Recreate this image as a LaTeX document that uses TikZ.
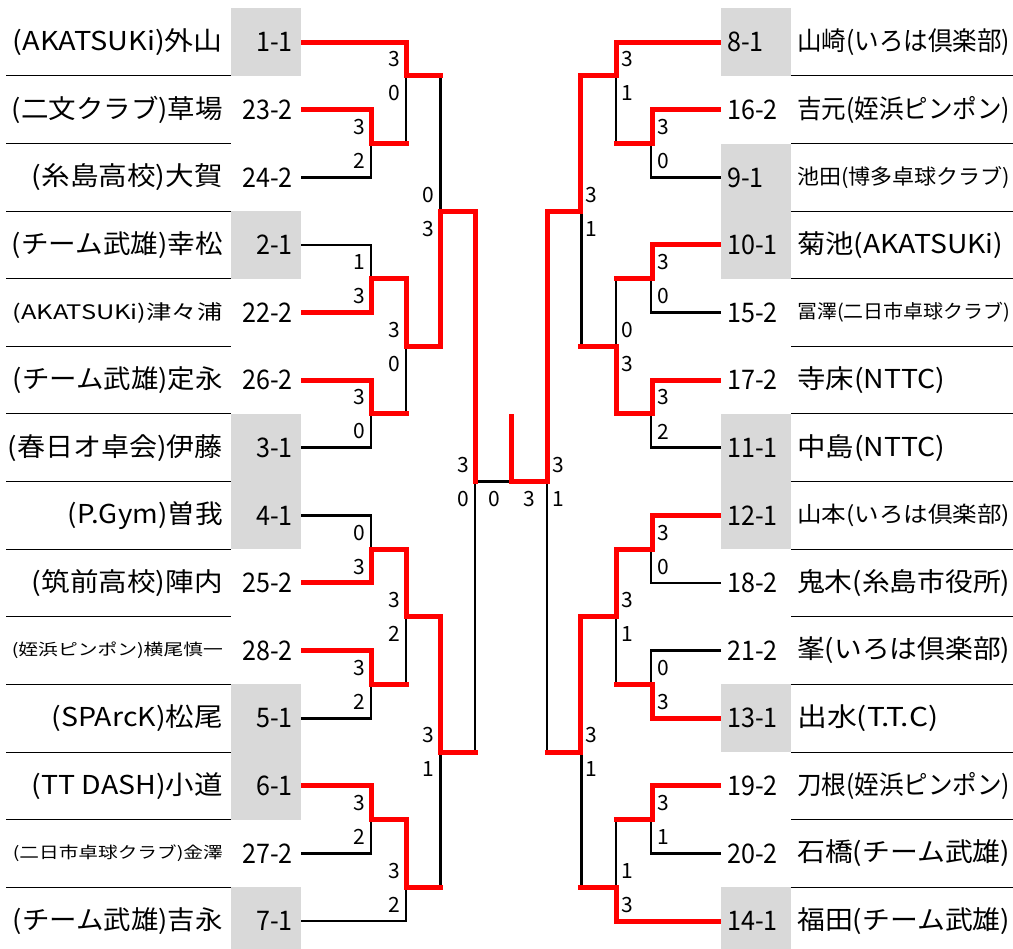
\documentclass[tikz,border=0pt]{standalone}
\usepackage{fontspec}
\setmainfont{Noto Sans CJK JP}
\usepackage{graphicx}
\definecolor{wred}{HTML}{FF0000}
\definecolor{cellgray}{HTML}{D9D9D9}
\newcommand{\nmtext}[3]{\resizebox{#1pt}{\height}{\fontsize{#2}{#2}\selectfont #3}}
\newcommand{\seedtext}[1]{\scalebox{0.93}[1]{\fontsize{27}{27}\selectfont #1}}
\tikzset{
  wline/.style={draw=wred, line width=5pt, line join=miter, line cap=rect},
  bline/.style={draw=black, line width=2.6pt, line join=miter},
  sepline/.style={draw=black, line width=1pt},
  cellbox/.style={fill=cellgray, draw=none},
  lname/.style={anchor=east, inner sep=0pt},
  rname/.style={anchor=west, inner sep=0pt},
  lseed/.style={anchor=east, inner sep=0pt},
  rseed/.style={anchor=west, inner sep=0pt},
  scorefont/.style={inner sep=0pt, font=\fontsize{21}{21}\selectfont},
  lscore/.style={scorefont, anchor=east},
  rscore/.style={scorefont, anchor=west},
  cscore/.style={scorefont, anchor=center},
}
% one half of the bracket frame (left side coordinates)
\newcommand{\halfframe}{%
  \foreach \r in {1,3,5,7,9,11} {
    \draw[bline] (301,{c(\r)}) -- (371,{c(\r)}) -- (371,{c(\r+1)}) -- (301,{c(\r+1)});
  }
  \draw[bline] (301,{c(0)}) -- (406,{c(0)}) -- (406,{b(2)}) -- (371,{b(2)});
  \draw[bline] (301,{c(13)}) -- (406,{c(13)}) -- (406,{b(12)}) -- (371,{b(12)});
  \draw[bline] (371,{b(4)}) -- (406,{b(4)}) -- (406,{b(6)}) -- (371,{b(6)});
  \draw[bline] (371,{b(8)}) -- (406,{b(8)}) -- (406,{b(10)}) -- (371,{b(10)});
  \draw[bline] (406,{b(1)}) -- (440.5,{b(1)}) -- (440.5,{b(5)}) -- (406,{b(5)});
  \draw[bline] (406,{b(9)}) -- (440.5,{b(9)}) -- (440.5,{b(13)}) -- (406,{b(13)});
  \draw[bline] (440.5,{b(3)}) -- (475,{b(3)}) -- (475,{b(11)}) -- (440.5,{b(11)});
  \draw[bline] (475,{b(7)}) -- (511,{b(7)});
}
\begin{document}
\begin{tikzpicture}[x=1pt, y=-1pt,
  declare function={c(\i)=42.2+67.6*\i; b(\i)=8.4+67.6*\i;}]
\useasboundingbox (0,0) rectangle (1013,949);
\fill[white] (0,0) rectangle (1013,949);

% gray seed cells
\fill[cellbox] (231,{b(0)}) rectangle (301,{b(1)});
\fill[cellbox] (231,{b(3)}) rectangle (301,{b(4)});
\fill[cellbox] (231,{b(6)}) rectangle (301,{b(8)});
\fill[cellbox] (231,{b(10)}) rectangle (301,{b(12)});
\fill[cellbox] (231,{b(13)}) rectangle (301,949);
\fill[cellbox] (721,{b(0)}) rectangle (791,{b(1)});
\fill[cellbox] (721,{b(2)}) rectangle (791,{b(4)});
\fill[cellbox] (721,{b(6)}) rectangle (791,{b(8)});
\fill[cellbox] (721,{b(10)}) rectangle (791,{b(11)});
\fill[cellbox] (721,{b(13)}) rectangle (791,949);

% row separators
\foreach \i in {1,...,13} {
  \draw[sepline] (6,{b(\i)}) -- (231,{b(\i)});
  \draw[sepline] (791,{b(\i)}) -- (1013,{b(\i)});
}

% black bracket frame
\halfframe
\begin{scope}[xshift=1022pt, xscale=-1]
  \halfframe
\end{scope}

% red winner paths, left
\draw[wline] (303.5,{c(0)}) -- (406,{c(0)}) -- (406,{b(1)}) -- (440.5,{b(1)});
\draw[wline] (303.5,{c(1)}) -- (371,{c(1)}) -- (371,{b(2)}) -- (406,{b(2)});
\draw[wline] (303.5,{c(4)}) -- (371,{c(4)}) -- (371,{b(4)}) -- (406,{b(4)}) -- (406,{b(5)}) -- (440.5,{b(5)}) -- (440.5,{b(3)}) -- (475,{b(3)}) -- (475,{b(7)});
\draw[wline] (303.5,{c(5)}) -- (371,{c(5)}) -- (371,{b(6)}) -- (406,{b(6)});
\draw[wline] (303.5,{c(8)}) -- (371,{c(8)}) -- (371,{b(8)}) -- (406,{b(8)}) -- (406,{b(9)}) -- (440.5,{b(9)}) -- (440.5,{b(11)}) -- (475,{b(11)});
\draw[wline] (303.5,{c(9)}) -- (371,{c(9)}) -- (371,{b(10)}) -- (406,{b(10)});
\draw[wline] (303.5,{c(11)}) -- (371,{c(11)}) -- (371,{b(12)}) -- (406,{b(12)}) -- (406,{b(13)}) -- (440.5,{b(13)});
% red winner paths, right
\draw[wline] (718.5,{c(0)}) -- (616,{c(0)}) -- (616,{b(1)}) -- (580.5,{b(1)}) -- (580.5,{b(3)}) -- (547,{b(3)}) -- (547,{b(7)}) -- (511,{b(7)}) -- (511,{b(6)+2.5});
\draw[wline] (718.5,{c(1)}) -- (652,{c(1)}) -- (652,{b(2)}) -- (616,{b(2)});
\draw[wline] (718.5,{c(3)}) -- (652,{c(3)}) -- (652,{b(4)}) -- (616,{b(4)});
\draw[wline] (718.5,{c(5)}) -- (652,{c(5)}) -- (652,{b(6)}) -- (616,{b(6)}) -- (616,{b(5)}) -- (580.5,{b(5)});
\draw[wline] (718.5,{c(7)}) -- (652,{c(7)}) -- (652,{b(8)}) -- (616,{b(8)}) -- (616,{b(9)}) -- (580.5,{b(9)}) -- (580.5,{b(11)}) -- (547,{b(11)});
\draw[wline] (718.5,{c(10)}) -- (652,{c(10)}) -- (652,{b(10)}) -- (616,{b(10)});
\draw[wline] (718.5,{c(11)}) -- (652,{c(11)}) -- (652,{b(12)}) -- (616,{b(12)});
\draw[wline] (718.5,{c(13)}) -- (616,{c(13)}) -- (616,{b(13)}) -- (580.5,{b(13)});

% left names
\node[lname] (ln0) at (223,{c(0)}) {\nmtext{210}{26}{(AKATSUKi)外山}};
\node[lname] (ln1) at (223,{c(1)}) {\nmtext{211}{26}{(二文クラブ)草場}};
\node[lname] (ln2) at (223,{c(2)}) {\nmtext{191}{26}{(糸島高校)大賀}};
\node[lname] (ln3) at (223,{c(3)}) {\nmtext{211}{26}{(チーム武雄)幸松}};
\node[lname] (ln4) at (223,{c(4)}) {\nmtext{210}{20}{(AKATSUKi)津々浦}};
\node[lname] (ln5) at (223,{c(5)}) {\nmtext{210}{26}{(チーム武雄)定永}};
\node[lname] (ln6) at (223,{c(6)}) {\nmtext{215}{26}{(春日オ卓会)伊藤}};
\node[lname] (ln7) at (223,{c(7)}) {\nmtext{155}{26}{(P.Gym)曽我}};
\node[lname] (ln8) at (223,{c(8)}) {\nmtext{191}{26}{(筑前高校)陣内}};
\node[lname] (ln9) at (223,{c(9)}) {\nmtext{211}{16}{(姪浜ピンポン)横尾慎一}};
\node[lname] (ln10) at (223,{c(10)}) {\nmtext{171}{26}{(SPArcK)松尾}};
\node[lname] (ln11) at (223,{c(11)}) {\nmtext{191}{26}{(TT DASH)小道}};
\node[lname] (ln12) at (223,{c(12)}) {\nmtext{210}{16}{(二日市卓球クラブ)金澤}};
\node[lname] (ln13) at (223,{c(13)}) {\nmtext{210}{26}{(チーム武雄)吉永}};

% right names
\node[rname] (rn0) at (797,{c(0)}) {\nmtext{213}{26}{山崎(いろは倶楽部)}};
\node[rname] (rn1) at (797,{c(1)}) {\nmtext{213}{26}{吉元(姪浜ピンポン)}};
\node[rname] (rn2) at (797,{c(2)}) {\nmtext{213}{21}{池田(博多卓球クラブ)}};
\node[rname] (rn3) at (797,{c(3)}) {\nmtext{206}{26}{菊池(AKATSUKi)}};
\node[rname] (rn4) at (797,{c(4)}) {\nmtext{213}{19}{冨澤(二日市卓球クラブ)}};
\node[rname] (rn5) at (797,{c(5)}) {\nmtext{148}{26}{寺床(NTTC)}};
\node[rname] (rn6) at (797,{c(6)}) {\nmtext{148}{26}{中島(NTTC)}};
\node[rname] (rn7) at (797,{c(7)}) {\nmtext{213}{22}{山本(いろは倶楽部)}};
\node[rname] (rn8) at (797,{c(8)}) {\nmtext{213}{26}{鬼木(糸島市役所)}};
\node[rname] (rn9) at (797,{c(9)}) {\nmtext{213}{26}{峯(いろは倶楽部)}};
\node[rname] (rn10) at (797,{c(10)}) {\nmtext{141}{26}{出水(T.T.C)}};
\node[rname] (rn11) at (797,{c(11)}) {\nmtext{213}{26}{刀根(姪浜ピンポン)}};
\node[rname] (rn12) at (797,{c(12)}) {\nmtext{213}{26}{石橋(チーム武雄)}};
\node[rname] (rn13) at (797,{c(13)}) {\nmtext{213}{26}{福田(チーム武雄)}};

% seeds
\foreach \i/\s in {0/1-1,1/23-2,2/24-2,3/2-1,4/22-2,5/26-2,6/3-1,7/4-1,8/25-2,9/28-2,10/5-1,11/6-1,12/27-2,13/7-1} {
  \node[lseed] (ls\i) at (293,{c(\i)}) {\seedtext{\s}};
}
\foreach \i/\s in {0/8-1,1/16-2,2/9-1,3/10-1,4/15-2,5/17-2,6/11-1,7/12-1,8/18-2,9/21-2,10/13-1,11/19-2,12/20-2,13/14-1} {
  \node[rseed] (rs\i) at (727,{c(\i)}) {\seedtext{\s}};
}

% scores, left side (x = vertical - 6)
\foreach \x/\k/\u/\d [count=\n] in {365/2/3/2, 365/4/1/3, 365/6/3/0, 365/8/0/3, 365/10/3/2, 365/12/3/2,
    400/1/3/0, 400/5/3/0, 400/9/3/2, 400/13/3/2,
    434.5/3/0/3, 434.5/11/3/1, 469/7/3/0} {
  \node[lscore] (lsu\n) at (\x,{b(\k)-16.5}) {\u};
  \node[lscore] (lsd\n) at (\x,{b(\k)+17.5}) {\d};
}
% scores, right side (x = vertical + 5)
\foreach \x/\k/\u/\d [count=\n] in {657/2/3/0, 657/4/3/0, 657/6/3/2, 657/8/3/0, 657/10/0/3, 657/12/3/1,
    621/1/3/1, 621/5/0/3, 621/9/3/1, 621/13/1/3,
    585.5/3/3/1, 585.5/11/3/1, 552/7/3/1} {
  \node[rscore] (rsu\n) at (\x,{b(\k)-16.5}) {\u};
  \node[rscore] (rsd\n) at (\x,{b(\k)+17.5}) {\d};
}
% final scores
\node[cscore] (fl) at (494,{b(7)+17.5}) {0};
\node[cscore] (fr) at (529.5,{b(7)+17.5}) {3};
\end{tikzpicture}
\end{document}
